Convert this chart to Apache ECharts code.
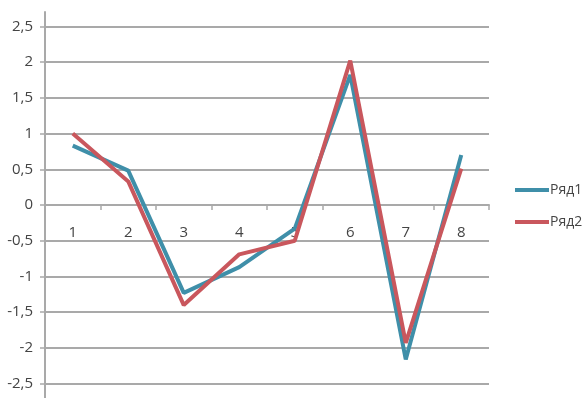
<!DOCTYPE html>
<html>
<head>
<meta charset="utf-8">
<script src="https://cdn.jsdelivr.net/npm/echarts@6/dist/echarts.min.js"></script>
<style>
  html, body { margin: 0; padding: 0; background: #ffffff; }
  #chart { width: 583px; height: 398px; }
</style>
</head>
<body>
<div id="chart"></div>
<script>
// Categories along the x axis
const categories = ['1', '2', '3', '4', '5', '6', '7', '8'];
// Series values
const seriesNames = ['Ряд1', 'Ряд2'];
const row1 = [0.83, 0.48, -1.23, -0.87, -0.33, 1.82, -2.16, 0.70];
const row2 = [1.00, 0.33, -1.40, -0.69, -0.50, 2.02, -1.93, 0.51];
// Y tick values
const yTicks = [-2.5, -2, -1.5, -1, -0.5, 0, 0.5, 1, 1.5, 2, 2.5];

const gridColor = '#a9a9a9';
const textColor = '#444444';

// Plot box and value range; the category axis is lifted up to the zero line
const plotTop = 12, plotBottom = 0, chartHeight = 398;
const yMin = -2.7, yMax = 2.7;
const plotHeight = chartHeight - plotTop - plotBottom;
const zeroLift = -plotHeight * (0 - yMin) / (yMax - yMin);

const chart = echarts.init(document.getElementById('chart'), null, { renderer: 'canvas' });

chart.setOption({
  animation: false,
  backgroundColor: '#ffffff',
  textStyle: { fontFamily: 'Open Sans, Liberation Sans, sans-serif' },
  grid: { left: 45, right: 94, top: plotTop, bottom: plotBottom, containLabel: false, outerBoundsMode: 'none' },
  legend: {
    orient: 'vertical',
    left: 510,
    top: 178,
    itemWidth: 34,
    itemHeight: 4,
    itemGap: 18,
    icon: 'rect',
    textStyle: { fontSize: 14, color: textColor, padding: [0, 0, 0, -4] },
    data: seriesNames
  },
  xAxis: {
    type: 'category',
    data: categories,
    boundaryGap: true,
    position: 'bottom',
    offset: zeroLift,
    axisLine: { onZero: false, lineStyle: { color: gridColor, width: 2 } },
    axisTick: { show: true, length: 5, lineStyle: { color: gridColor, width: 1.5 } },
    axisLabel: { fontSize: 15, color: textColor, margin: 20 },
    splitLine: { show: false }
  },
  yAxis: {
    type: 'value',
    min: yMin,
    max: yMax,
    axisLine: { show: true, lineStyle: { color: gridColor, width: 2 } },
    axisTick: { show: true, length: 5, customValues: yTicks, lineStyle: { color: gridColor, width: 1.5 } },
    axisLabel: {
      fontSize: 15,
      color: textColor,
      margin: 12,
      customValues: yTicks,
      formatter: v => String(v).replace('.', ',')
    },
    splitLine: { show: true, lineStyle: { color: gridColor, width: 2 } }
  },
  series: [
    {
      name: seriesNames[0],
      type: 'line',
      data: row1,
      symbol: 'none',
      lineStyle: { width: 4, color: '#3f8fa9' },
      itemStyle: { color: '#3f8fa9' }
    },
    {
      name: seriesNames[1],
      type: 'line',
      data: row2,
      symbol: 'none',
      lineStyle: { width: 4, color: '#c9575d' },
      itemStyle: { color: '#c9575d' }
    }
  ]
});
</script>
</body>
</html>
